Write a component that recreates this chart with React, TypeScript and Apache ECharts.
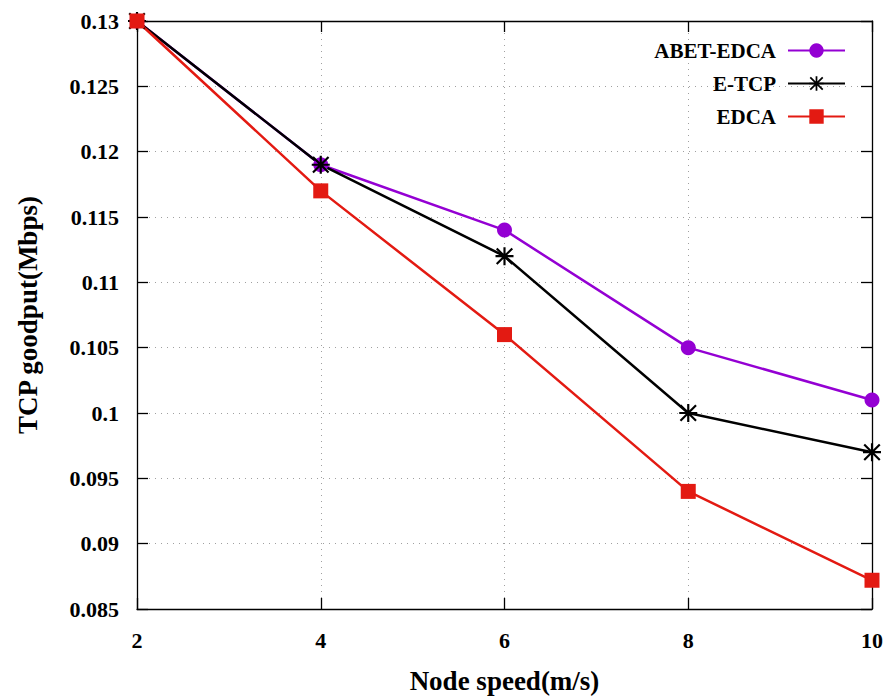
import React, { useEffect, useRef } from "react";
import * as echarts from "echarts";

const speeds = [2, 4, 6, 8, 10];
const abetEdca = [0.13, 0.119, 0.114, 0.105, 0.101];
const eTcp = [0.13, 0.119, 0.112, 0.1, 0.097];
const edca = [0.13, 0.117, 0.106, 0.094, 0.0872];
const seriesNames = ["ABET-EDCA", "E-TCP", "EDCA"];

const FONT = "'Liberation Serif', serif";
const STAR =
  "path://M0 8.8 L20 8.8 L20 11.2 L0 11.2 Z M8.8 0 L11.2 0 L11.2 20 L8.8 20 Z M2.2 0.5 L19.5 17.8 L17.8 19.5 L0.5 2.2 Z M17.8 0.5 L19.5 2.2 L2.2 19.5 L0.5 17.8 Z";

export default function App() {
  const ref = useRef<HTMLDivElement>(null);
  useEffect(() => {
    if (!ref.current) return;
    const chart = echarts.init(ref.current, null, { renderer: "svg" });
    const gridLine = { show: true, lineStyle: { color: "#a0a0a0", type: [1, 5] as any, width: 1 } };
    const label = { fontFamily: FONT, fontWeight: "bold" as const, fontSize: 22, color: "#000" };
    const axisLine = { show: true, lineStyle: { color: "#000", width: 1.3 } };
    const tick = { show: true, inside: true, length: 11, lineStyle: { color: "#000", width: 1.3 } };
    const mk = (vals: number[]) => speeds.map((s, i) => [s, vals[i]]);
    chart.setOption({
      animation: false,
      backgroundColor: "#fff",
      textStyle: { fontFamily: FONT, fontWeight: "bold" },
      grid: { left: 137, right: 14, top: 21, bottom: 87 },
      legend: {
        orient: "vertical",
        right: 35,
        top: 35,
        align: "right",
        itemWidth: 57,
        itemHeight: 18,
        itemGap: 12,
        textStyle: { ...label, fontSize: 21, lineHeight: 18, padding: [0, 7, 0, 0] },
        data: seriesNames,
      },
      xAxis: [
        {
          type: "value",
          min: 2,
          max: 10,
          interval: 2,
          axisLine,
          axisTick: tick,
          splitLine: gridLine,
          axisLabel: { ...label, margin: 20 },
          name: "Node speed(m/s)",
          nameLocation: "middle",
          nameGap: 58,
          nameTextStyle: { ...label, fontSize: 27 },
        },
        {
          type: "value",
          position: "top",
          min: 2,
          max: 10,
          interval: 2,
          axisLine,
          axisTick: tick,
          splitLine: { show: false },
          axisLabel: { show: false },
        },
      ],
      yAxis: [
        {
          type: "value",
          min: 0.085,
          max: 0.13,
          interval: 0.005,
          axisLine,
          axisTick: tick,
          splitLine: gridLine,
          axisLabel: {
            ...label,
            margin: 18,
            formatter: (v: number) => String(+v.toFixed(3)),
          },
          name: "TCP goodput(Mbps)",
          nameLocation: "middle",
          nameGap: 96,
          nameTextStyle: { ...label, fontSize: 27 },
        },
        {
          type: "value",
          position: "right",
          min: 0.085,
          max: 0.13,
          interval: 0.005,
          axisLine,
          axisTick: tick,
          splitLine: { show: false },
          axisLabel: { show: false },
        },
      ],
      series: [
        {
          name: seriesNames[0],
          type: "line",
          data: mk(abetEdca),
          color: "#9400d3",
          symbol: "circle",
          symbolSize: 15,
          lineStyle: { width: 2.5, color: "#9400d3" },
          itemStyle: { color: "#9400d3" },
        },
        {
          name: seriesNames[1],
          type: "line",
          data: mk(eTcp),
          color: "#000",
          symbol: STAR,
          symbolSize: 18,
          lineStyle: { width: 2.5, color: "#000" },
          itemStyle: { color: "#000" },
        },
        {
          name: seriesNames[2],
          type: "line",
          data: mk(edca),
          color: "#e31a12",
          symbol: "rect",
          symbolSize: 15,
          lineStyle: { width: 2.5, color: "#e31a12" },
          itemStyle: { color: "#e31a12" },
        },
      ],
    });
    return () => chart.dispose();
  }, []);
  return (
    <div
      ref={ref}
      style={{ position: "fixed", left: 0, top: 0, width: 886, height: 699, background: "#fff" }}
    />
  );
}
